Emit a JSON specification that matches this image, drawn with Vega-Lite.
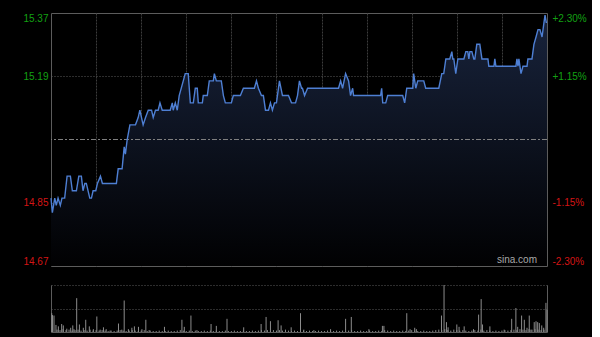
{
  "$schema": "https://vega.github.io/schema/vega-lite/v6.json",
  "background": "#000000",
  "padding": {"left": 22, "top": 11, "right": 5, "bottom": 4},
  "spacing": 17,
  "config": {
    "font": "Liberation Sans",
    "view": {"stroke": null},
    "axis": {"labelFont": "Liberation Sans", "labelFontSize": 10, "ticks": false, "domain": false, "grid": false, "title": null, "minExtent": 0}
  },
  "datasets": {
    "price": [
      {"m":0,"p":14.86},{"m":0.9,"p":14.82},{"m":2.5,"p":14.86},{"m":3.5,"p":14.84},{"m":4.7,"p":14.86},{"m":6.2,"p":14.84},{"m":7.3,"p":14.86},{"m":9.1,"p":14.86},{"m":10.7,"p":14.92},{"m":12.9,"p":14.92},{"m":14.2,"p":14.88},{"m":16.9,"p":14.88},{"m":18.5,"p":14.92},{"m":20.2,"p":14.92},{"m":21.3,"p":14.88},{"m":22.5,"p":14.90},{"m":23.5,"p":14.90},{"m":25.8,"p":14.86},{"m":26.9,"p":14.86},{"m":28,"p":14.88},{"m":29.8,"p":14.88},{"m":30.9,"p":14.90},{"m":32.9,"p":14.92},{"m":34.2,"p":14.90},{"m":43.5,"p":14.90},{"m":44.7,"p":14.94},{"m":47.3,"p":14.94},{"m":48.7,"p":15.00},{"m":49.5,"p":14.98},{"m":50.7,"p":15.02},{"m":52.5,"p":15.06},{"m":56.2,"p":15.06},{"m":58,"p":15.08},{"m":59.1,"p":15.10},{"m":61.3,"p":15.06},{"m":62.9,"p":15.08},{"m":64.7,"p":15.10},{"m":66.9,"p":15.10},{"m":68,"p":15.08},{"m":69.5,"p":15.10},{"m":71.3,"p":15.10},{"m":72.5,"p":15.12},{"m":74,"p":15.10},{"m":79.3,"p":15.10},{"m":80.7,"p":15.12},{"m":81.3,"p":15.10},{"m":82.7,"p":15.12},{"m":84,"p":15.10},{"m":85.3,"p":15.14},{"m":88,"p":15.18},{"m":89.3,"p":15.20},{"m":91.3,"p":15.20},{"m":92.7,"p":15.12},{"m":94.7,"p":15.12},{"m":96,"p":15.16},{"m":97.3,"p":15.16},{"m":98,"p":15.12},{"m":100.7,"p":15.12},{"m":101.3,"p":15.14},{"m":104,"p":15.14},{"m":105.3,"p":15.18},{"m":108,"p":15.18},{"m":108.7,"p":15.20},{"m":110,"p":15.18},{"m":113.3,"p":15.18},{"m":114.7,"p":15.14},{"m":116,"p":15.12},{"m":120,"p":15.12},{"m":121.3,"p":15.14},{"m":126,"p":15.14},{"m":128,"p":15.16},{"m":135.3,"p":15.16},{"m":136.7,"p":15.18},{"m":138,"p":15.16},{"m":140,"p":15.14},{"m":141.3,"p":15.14},{"m":142.7,"p":15.10},{"m":144.7,"p":15.10},{"m":146,"p":15.12},{"m":147.3,"p":15.10},{"m":148.7,"p":15.12},{"m":150,"p":15.12},{"m":152,"p":15.18},{"m":154,"p":15.14},{"m":158,"p":15.14},{"m":160,"p":15.12},{"m":162.7,"p":15.12},{"m":164,"p":15.14},{"m":165.3,"p":15.18},{"m":166.7,"p":15.16},{"m":167.3,"p":15.16},{"m":168.7,"p":15.14},{"m":170.7,"p":15.16},{"m":191.3,"p":15.16},{"m":192.7,"p":15.18},{"m":194,"p":15.16},{"m":196,"p":15.20},{"m":198,"p":15.18},{"m":199.3,"p":15.14},{"m":200.7,"p":15.16},{"m":201.3,"p":15.14},{"m":219.3,"p":15.14},{"m":220,"p":15.16},{"m":220.7,"p":15.12},{"m":222.7,"p":15.12},{"m":224,"p":15.14},{"m":234,"p":15.14},{"m":235.3,"p":15.12},{"m":236.7,"p":15.16},{"m":240.7,"p":15.16},{"m":241.3,"p":15.20},{"m":242.7,"p":15.16},{"m":244,"p":15.18},{"m":248,"p":15.18},{"m":249.3,"p":15.16},{"m":258,"p":15.16},{"m":260,"p":15.20},{"m":261.3,"p":15.20},{"m":262.7,"p":15.24},{"m":265.3,"p":15.24},{"m":266.7,"p":15.26},{"m":267.3,"p":15.24},{"m":268,"p":15.24},{"m":269.3,"p":15.20},{"m":270.7,"p":15.24},{"m":274.7,"p":15.24},{"m":276,"p":15.26},{"m":277.3,"p":15.26},{"m":278,"p":15.24},{"m":278.7,"p":15.26},{"m":280,"p":15.26},{"m":281.3,"p":15.24},{"m":282,"p":15.24},{"m":283.3,"p":15.28},{"m":285.3,"p":15.28},{"m":286.7,"p":15.24},{"m":290.7,"p":15.24},{"m":291.3,"p":15.22},{"m":294.7,"p":15.22},{"m":295.3,"p":15.24},{"m":296,"p":15.22},{"m":309.3,"p":15.22},{"m":310,"p":15.24},{"m":310.7,"p":15.22},{"m":311.3,"p":15.24},{"m":312.7,"p":15.20},{"m":314,"p":15.22},{"m":316.7,"p":15.22},{"m":317.3,"p":15.24},{"m":320,"p":15.24},{"m":321.3,"p":15.28},{"m":322.7,"p":15.30},{"m":324,"p":15.32},{"m":325.3,"p":15.32},{"m":326.7,"p":15.30},{"m":328,"p":15.34},{"m":328.7,"p":15.36},{"m":329.5,"p":15.34},{"m":330,"p":15.34}
    ],
    "vol": [
      {"m":0.5,"v":40},{"m":1,"v":36},{"m":2,"v":35},{"m":3.3,"v":15},{"m":4.9,"v":12},{"m":7.1,"v":17},{"m":8.2,"v":14},{"m":10.5,"v":7},{"m":13.1,"v":9},{"m":14.5,"v":14},{"m":15.3,"v":6},{"m":17.1,"v":72},{"m":18.9,"v":16},{"m":21.5,"v":9},{"m":23.1,"v":26},{"m":25.5,"v":12},{"m":28.2,"v":6},{"m":30.5,"v":33},{"m":32.7,"v":5},{"m":34.9,"v":10},{"m":36.7,"v":6},{"m":39.3,"v":3},{"m":44.9,"v":18},{"m":47.1,"v":5},{"m":48.7,"v":67},{"m":51.5,"v":6},{"m":53.8,"v":9},{"m":55.5,"v":12},{"m":58.2,"v":11},{"m":60.5,"v":6},{"m":63.1,"v":26},{"m":65.3,"v":4},{"m":75.5,"v":11},{"m":87.1,"v":26},{"m":88.7,"v":11},{"m":93.1,"v":35},{"m":97.1,"v":4},{"m":106.5,"v":17},{"m":110,"v":13},{"m":117.1,"v":28},{"m":128.2,"v":10},{"m":139.8,"v":17},{"m":143.1,"v":32},{"m":146,"v":23},{"m":151.1,"v":25},{"m":153.1,"v":14},{"m":156,"v":5},{"m":159.8,"v":10},{"m":166,"v":40},{"m":168.2,"v":5},{"m":174.9,"v":4},{"m":186,"v":6},{"m":196,"v":28},{"m":199.8,"v":32},{"m":211.5,"v":6},{"m":220.5,"v":13},{"m":221.5,"v":13},{"m":236.7,"v":40},{"m":238.9,"v":6},{"m":242,"v":9},{"m":243.1,"v":6},{"m":259.8,"v":35},{"m":261.5,"v":100},{"m":263.1,"v":21},{"m":264.2,"v":10},{"m":270,"v":16},{"m":271.5,"v":11},{"m":274.9,"v":12},{"m":281.1,"v":6},{"m":284.5,"v":37},{"m":286.2,"v":70},{"m":287.1,"v":16},{"m":292,"v":12},{"m":301.5,"v":5},{"m":306.5,"v":28},{"m":309.3,"v":51},{"m":310.5,"v":11},{"m":313.1,"v":35},{"m":314.9,"v":26},{"m":316.7,"v":9},{"m":318.2,"v":35},{"m":319.3,"v":5},{"m":321.5,"v":21},{"m":322.7,"v":23},{"m":323.8,"v":21},{"m":324.9,"v":19},{"m":326.5,"v":14},{"m":327.8,"v":9},{"m":329.3,"v":62},{"m":330,"v":47},
      {"m":4,"v":5},{"m":6,"v":4},{"m":8,"v":6},{"m":10,"v":4},{"m":12,"v":5},{"m":14,"v":3},{"m":16,"v":4},{"m":18,"v":5},{"m":20,"v":3},{"m":22,"v":4},{"m":24,"v":3},{"m":26,"v":5},{"m":28,"v":3},{"m":30,"v":4},{"m":32,"v":3},{"m":34,"v":4},{"m":36,"v":3},{"m":38,"v":2},{"m":40,"v":3},{"m":42,"v":2},{"m":44,"v":3},{"m":46,"v":4},{"m":48,"v":3},{"m":50,"v":2},{"m":52,"v":3},{"m":54,"v":4},{"m":56,"v":3},{"m":58,"v":2},{"m":60,"v":3},{"m":62,"v":4},{"m":64,"v":2},{"m":66,"v":3},{"m":68,"v":2},{"m":70,"v":2},{"m":72,"v":3},{"m":74,"v":2},{"m":76,"v":2},{"m":78,"v":3},{"m":80,"v":2},{"m":82,"v":2},{"m":84,"v":3},{"m":86,"v":4},{"m":88,"v":3},{"m":90,"v":2},{"m":92,"v":3},{"m":94,"v":2},{"m":96,"v":3},{"m":98,"v":2},{"m":100,"v":2},{"m":102,"v":3},{"m":104,"v":2},{"m":106,"v":3},{"m":108,"v":2},{"m":110,"v":3},{"m":112,"v":2},{"m":114,"v":2},{"m":116,"v":3},{"m":118,"v":2},{"m":120,"v":2},{"m":122,"v":3},{"m":124,"v":2},{"m":126,"v":2},{"m":128,"v":3},{"m":130,"v":2},{"m":132,"v":2},{"m":134,"v":3},{"m":136,"v":2},{"m":138,"v":3},{"m":140,"v":4},{"m":142,"v":3},{"m":144,"v":4},{"m":146,"v":3},{"m":148,"v":4},{"m":150,"v":3},{"m":152,"v":4},{"m":154,"v":3},{"m":156,"v":2},{"m":158,"v":3},{"m":160,"v":2},{"m":162,"v":3},{"m":164,"v":2},{"m":166,"v":4},{"m":168,"v":3},{"m":170,"v":2},{"m":172,"v":3},{"m":174,"v":2},{"m":176,"v":2},{"m":178,"v":3},{"m":180,"v":2},{"m":182,"v":2},{"m":184,"v":3},{"m":186,"v":2},{"m":188,"v":2},{"m":190,"v":3},{"m":192,"v":2},{"m":194,"v":3},{"m":196,"v":2},{"m":198,"v":3},{"m":200,"v":4},{"m":202,"v":2},{"m":204,"v":2},{"m":206,"v":3},{"m":208,"v":2},{"m":210,"v":2},{"m":212,"v":3},{"m":214,"v":2},{"m":216,"v":2},{"m":218,"v":3},{"m":220,"v":2},{"m":222,"v":4},{"m":224,"v":3},{"m":226,"v":2},{"m":228,"v":3},{"m":230,"v":2},{"m":232,"v":2},{"m":234,"v":3},{"m":236,"v":2},{"m":238,"v":3},{"m":240,"v":4},{"m":242,"v":3},{"m":244,"v":2},{"m":246,"v":2},{"m":248,"v":3},{"m":250,"v":2},{"m":252,"v":2},{"m":254,"v":3},{"m":256,"v":4},{"m":258,"v":5},{"m":260,"v":4},{"m":262,"v":6},{"m":264,"v":4},{"m":266,"v":3},{"m":268,"v":5},{"m":270,"v":4},{"m":272,"v":3},{"m":274,"v":4},{"m":276,"v":3},{"m":278,"v":2},{"m":280,"v":3},{"m":282,"v":4},{"m":284,"v":3},{"m":286,"v":5},{"m":288,"v":3},{"m":290,"v":4},{"m":292,"v":3},{"m":294,"v":2},{"m":296,"v":3},{"m":298,"v":2},{"m":300,"v":3},{"m":302,"v":4},{"m":304,"v":3},{"m":306,"v":4},{"m":308,"v":5},{"m":310,"v":4},{"m":312,"v":6},{"m":314,"v":5},{"m":316,"v":4},{"m":318,"v":6},{"m":320,"v":5},{"m":322,"v":6},{"m":324,"v":5},{"m":326,"v":4},{"m":328,"v":5}
    ],
    "ref": [{"p": 15.02}],
    "mark": [{"t": "sina.com"}]
  },
  "vconcat": [
    {
      "width": 496,
      "height": 253,
      "view": {"stroke": "#5c5c5c", "strokeWidth": 1},
      "layer": [
        {
          "data": {"name": "price"},
          "mark": {"type": "area", "color": {"gradient": "linear", "x1": 0, "y1": 1, "x2": 0, "y2": 0, "stops": [{"offset": 0, "color": "#010102"}, {"offset": 1, "color": "#18233c"}]}},
          "encoding": {
            "x": {"field": "m", "type": "quantitative", "scale": {"domain": [0, 330], "nice": false, "zero": false},
                  "axis": {"values": [30, 60, 90, 120, 150, 180, 210, 240, 270, 300], "grid": true, "gridColor": "#3c3c3c", "gridDash": [2, 1], "labels": false, "domain": false, "ticks": false}},
            "y": {"field": "p", "type": "quantitative", "scale": {"domain": [14.6745, 15.3655], "nice": false, "zero": false},
                  "axis": {"orient": "left", "values": [14.6745, 14.8473, 15.1927, 15.3655], "format": ".2f", "labelFlush": true, "labelPadding": 3,
                           "labelColor": {"condition": {"test": "datum.value > 15.02", "value": "#13a013"}, "value": "#d41515"},
                           "grid": true, "gridColor": "#5a5a5a", "gridDash": [1, 2],
                           "gridOpacity": {"condition": {"test": "datum.value > 14.7 && datum.value < 15.3", "value": 1}, "value": 0}}},
            "y2": {"datum": 14.6745}
          }
        },
        {
          "data": {"name": "ref"},
          "mark": {"type": "rule", "color": "#808080", "strokeWidth": 1, "strokeDash": [5, 2, 2, 2]},
          "encoding": {"y": {"field": "p", "type": "quantitative", "axis": null}}
        },
        {
          "data": {"name": "price"},
          "mark": {"type": "line", "color": "#4e7fd3", "strokeWidth": 1.4},
          "encoding": {
            "x": {"field": "m", "type": "quantitative"},
            "y": {"field": "p", "type": "quantitative",
                  "axis": {"orient": "right", "values": [14.6745, 14.8473, 15.1927, 15.3655], "labelFlush": true, "labelPadding": 5,
                           "labelExpr": "(datum.value > 15.02 ? '+' : '-') + format(abs(datum.value / 15.02 - 1) * 100, '.2f') + '%'",
                           "labelColor": {"condition": {"test": "datum.value > 15.02", "value": "#13a013"}, "value": "#d41515"}, "grid": false}}
          }
        },
        {
          "data": {"name": "mark"},
          "mark": {"type": "text", "align": "right", "baseline": "bottom", "dx": -10, "dy": -1, "fontSize": 10, "color": "#a8a8a8", "font": "Liberation Sans"},
          "encoding": {
            "x": {"datum": 330, "type": "quantitative"},
            "y": {"datum": 14.6745, "type": "quantitative", "axis": null},
            "text": {"field": "t"}
          }
        }
      ],
      "resolve": {"axis": {"y": "independent"}}
    },
    {
      "width": 496,
      "height": 47,
      "data": {"name": "vol"},
      "layer": [
        {
          "mark": {"type": "rule", "color": "#8c8c8c", "strokeWidth": 1},
          "encoding": {
            "x": {"field": "m", "type": "quantitative", "scale": {"domain": [0, 330], "nice": false, "zero": false},
                  "axis": {"domain": true, "domainColor": "#5c5c5c", "labels": false, "ticks": false, "grid": false}},
            "y": {"field": "v", "type": "quantitative", "scale": {"domain": [0, 100], "nice": false},
                  "axis": {"orient": "left", "domain": true, "domainColor": "#5c5c5c", "labels": false, "ticks": false, "grid": true, "values": [50, 100], "gridColor": "#5a5a5a", "gridDash": [1, 2]}},
            "y2": {"datum": 0}
          }
        },
        {
          "mark": {"type": "rule", "opacity": 0},
          "encoding": {
            "x": {"field": "m", "type": "quantitative"},
            "y": {"field": "v", "type": "quantitative", "axis": {"orient": "right", "domain": true, "domainColor": "#5c5c5c", "labels": false, "ticks": false, "grid": false}},
            "y2": {"datum": 0}
          }
        }
      ],
      "resolve": {"axis": {"y": "independent"}}
    }
  ]
}
